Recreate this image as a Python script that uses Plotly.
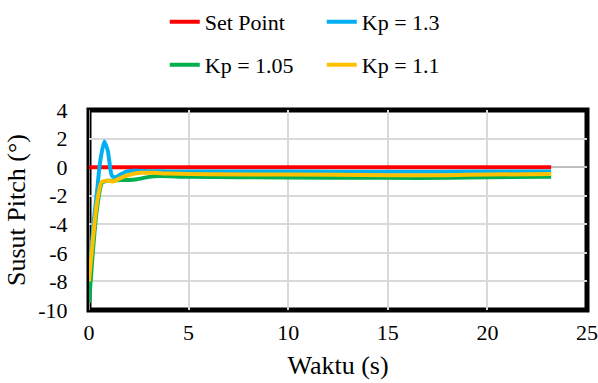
import plotly.graph_objects as go

# ---- data ----
t_sp = [0, 23.2]
set_point = [0, 0]

t_kp13 = [0, 0.1, 0.23, 0.4, 0.55, 0.77, 0.95, 1.15, 1.35, 1.6, 1.9, 2.3, 3, 4, 6, 10, 15, 20, 23.2]
kp13 = [-8, -6.2, -3.9, -1.75, 0.3, 1.8, 1.1, -0.6, -0.7, -0.5, -0.3, -0.25, -0.28, -0.3, -0.3, -0.3, -0.33, -0.3, -0.3]

t_kp105 = [0, 0.2, 0.4, 0.65, 0.9, 1.2, 1.6, 2.0, 2.4, 3.0, 3.5, 5, 10, 15, 18, 20, 23.2]
kp105 = [-9.5, -5.8, -2.9, -1.1, -0.95, -0.95, -0.9, -0.9, -0.85, -0.68, -0.62, -0.68, -0.72, -0.75, -0.75, -0.7, -0.67]

t_kp11 = [0, 0.2, 0.4, 0.63, 0.9, 1.2, 1.6, 2.0, 2.6, 3.2, 4, 6, 10, 15, 18, 20, 23.2]
kp11 = [-8, -5, -2.5, -1.05, -0.95, -1.0, -0.75, -0.55, -0.4, -0.4, -0.45, -0.5, -0.52, -0.56, -0.56, -0.52, -0.48]

x_ticks = [0, 5, 10, 15, 20, 25]
y_ticks = [4, 2, 0, -2, -4, -6, -8, -10]
y_tick_text = ["4", "2", "0", "-2", "-4", "-6", "-8", "-10"]

FONT = "Liberation Serif"

fig = go.Figure()
fig.add_trace(go.Scatter(x=t_sp, y=set_point, mode="lines", name="Set Point",
                         line=dict(color="#FF0000", width=4), legend="legend"))
fig.add_trace(go.Scatter(x=t_kp13, y=kp13, mode="lines", name="Kp = 1.3",
                         line=dict(color="#00B0F0", width=4, shape="spline", smoothing=0.6),
                         legend="legend"))
fig.add_trace(go.Scatter(x=t_kp105, y=kp105, mode="lines", name="Kp = 1.05",
                         line=dict(color="#00B050", width=4, shape="spline", smoothing=0.6),
                         legend="legend2"))
fig.add_trace(go.Scatter(x=t_kp11, y=kp11, mode="lines", name="Kp = 1.1",
                         line=dict(color="#FFC000", width=4, shape="spline", smoothing=0.6),
                         legend="legend2"))

legend_common = dict(orientation="h", xanchor="left", yanchor="middle",
                     font=dict(family=FONT, size=22, color="black"),
                     bgcolor="rgba(0,0,0,0)", entrywidth=112, entrywidthmode="pixels",
                     traceorder="normal")

PLOT_H = 200
PLOT_W = 498
LEG_X = 0.12 + 16 / PLOT_W

fig.update_layout(
    width=598, height=383,
    margin=dict(l=89, r=11, t=110, b=73, autoexpand=False),
    paper_bgcolor="white", plot_bgcolor="white",
    font=dict(family=FONT, size=22, color="black"),
    legend=dict(x=LEG_X, y=1.0 + 88 / PLOT_H, **legend_common),
    legend2=dict(x=LEG_X, y=1.0 + 45 / PLOT_H, **legend_common),
    xaxis=dict(range=[0, 25], tickvals=x_ticks, showgrid=True, gridcolor="#D9D9D9",
               gridwidth=1.5, zeroline=False, showline=False, automargin=False,
               ticks="outside", ticklen=3, tickcolor="rgba(0,0,0,0)",
               tickfont=dict(family=FONT, size=22, color="black"),
               title=dict(text="Waktu (s)", font=dict(family=FONT, size=26, color="black"),
                          standoff=11)),
    yaxis=dict(range=[-10, 4], tickvals=y_ticks, ticktext=y_tick_text, showgrid=True,
               gridcolor="#D9D9D9",
               gridwidth=1.5, zeroline=True, zerolinecolor="#BFBFBF", zerolinewidth=1.5,
               showline=False, automargin=False,
               ticks="outside", ticklen=16, tickcolor="rgba(0,0,0,0)",
               tickfont=dict(family=FONT, size=22, color="black"),
               title=dict(text="Susut Pitch (°)", font=dict(family=FONT, size=26, color="black"),
                          standoff=5)),
    shapes=[
        dict(type="rect", xref="paper", yref="paper", x0=0, x1=1, y0=0, y1=1,
             line=dict(color="black", width=5), layer="between"),
        dict(type="line", xref="x", yref="paper", x0=0, x1=0, y0=0, y1=1,
             line=dict(color="#BFBFBF", width=1.5), layer="between"),
    ],
)

fig.write_html("out.html", config={"displayModeBar": False},
               post_script="document.body.style.margin='0';document.body.style.overflow='hidden';")
